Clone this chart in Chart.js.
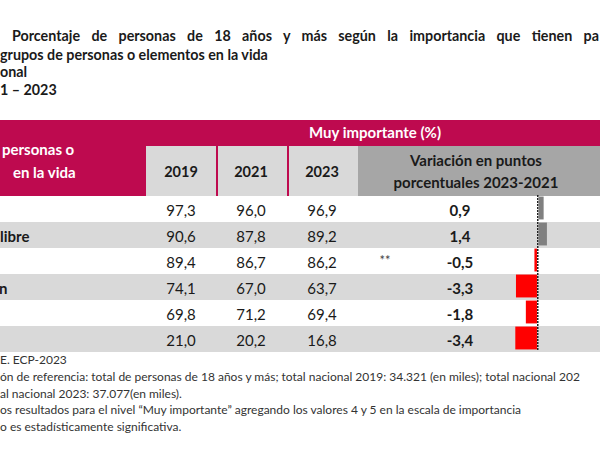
<!DOCTYPE html>
<html>
<head>
<meta charset="utf-8">
<script src="https://cdn.jsdelivr.net/npm/chart.js@4/dist/chart.umd.min.js"></script>
<style>
  html, body { margin: 0; padding: 0; }
  body { width: 600px; height: 450px; overflow: hidden; position: relative; background: #fff; font-family: Lato, "Open Sans", sans-serif; color: #1a1a1a; }
  .abs { position: absolute; white-space: nowrap; }
  .title { font-weight: bold; font-size: 14.3px; line-height: 18px; }
  .band { background: #BE0A4F; }
  .cell { background: #D9D9D9; }
  .cellDark { background: #A6A6A6; }
  .stripe { background: #D9D9D9; left: 0; width: 600px; height: 26px; }
  .hd { font-weight: bold; font-size: 15px; line-height: 20px; text-align: center; }
  .num { font-size: 15px; line-height: 26px; text-align: center; width: 60px; }
  .bold { font-weight: bold; }
  .note { font-size: 12px; line-height: 16.8px; color: #333; left: 0; }
  #varChart { position: absolute; left: 485px; top: 195px; }
</style>
</head>
<body>
<div id="page"></div>
<canvas id="varChart" width="112" height="156"></canvas>
<script>
// datos (lo que se ve en el recorte)
var categories = ['', 'libre', '', 'n', '', ''];
var years = ['2019', '2021', '2023'];
var values2019 = [97.3, 90.6, 89.4, 74.1, 69.8, 21.0];
var values2021 = [96.0, 87.8, 86.7, 67.0, 71.2, 20.2];
var values2023 = [96.9, 89.2, 86.2, 63.7, 69.4, 16.8];
var variation = [0.9, 1.4, -0.5, -3.3, -1.8, -3.4];
var significance = ['', '', '**', '', '', ''];

var titleLines = [
  'Porcentaje de personas de 18 años y más según la importancia que tienen pa',
  'grupos de personas o elementos en la vida',
  'onal',
  '1 – 2023'
];
var notes = [
  'E. ECP-2023',
  'ón de referencia: total de personas de 18 años y más; total nacional 2019: 34.321 (en miles); total nacional 202',
  'al nacional 2023: 37.077(en miles).',
  'os resultados para el nivel “Muy importante” agregando los valores 4 y 5 en la escala de importancia',
  'o es estadísticamente significativa.'
];

var page = document.getElementById('page');
var rowTop = 196, rowH = 26;
var colX = [181, 251, 322];

function add(cls, css, text) {
  var d = document.createElement('div');
  d.className = 'abs ' + cls;
  d.style.cssText = css;
  if (text !== undefined) d.textContent = text;
  page.appendChild(d);
  return d;
}

function fmt(v) {
  return v.toFixed(1).replace('.', ',');
}

function barColour(v) {
  return v < 0 ? '#FF0000' : '#808080';
}

// titulo
add('title', 'left:12px;top:27px;width:587px;text-align:justify;text-align-last:justify;white-space:normal;', titleLines[0]);
add('title', 'left:0;top:46px;', titleLines[1]);
add('title', 'left:0;top:63px;', titleLines[2]);
add('title', 'left:0;top:81px;', titleLines[3]);

// cabecera
add('band', 'left:0;top:120px;width:600px;height:76px;');
add('cell', 'left:146px;top:146px;width:70px;height:50px;');
add('cell', 'left:218px;top:146px;width:69px;height:50px;');
add('cell', 'left:289px;top:146px;width:69px;height:50px;');
add('cellDark', 'left:358px;top:146px;width:242px;height:50px;');
add('hd', 'left:295px;top:122px;width:160px;color:#fff;', 'Muy importante (%)');
add('hd', 'left:2px;top:139px;color:#fff;text-align:left;', 'personas o');
add('hd', 'left:13px;top:162px;color:#fff;text-align:left;', 'en la vida');
years.forEach(function(y, i) {
  add('hd', 'left:' + (colX[i] - 30) + 'px;top:162px;width:60px;font-size:14.5px;', y);
});
add('hd', 'left:376px;top:150px;width:200px;', 'Variación en puntos');
add('hd', 'left:376px;top:172px;width:200px;', 'porcentuales 2023-2021');

// filas
categories.forEach(function(c, i) {
  var top = rowTop + i * rowH;
  if (i % 2 === 1) add('stripe', 'top:' + top + 'px;');
  if (c) add('num bold', 'left:' + (c.length > 1 ? 0 : -1) + 'px;top:' + (top + 1) + 'px;width:auto;text-align:left;', c);
  [values2019, values2021, values2023].forEach(function(arr, j) {
    add('num', 'left:' + (colX[j] - 30) + 'px;top:' + (top + 1) + 'px;', fmt(arr[i]));
  });
  if (significance[i]) add('num', 'left:355px;top:' + (top - 1) + 'px;font-size:13px;color:#444;', significance[i]);
  add('num bold', 'left:430px;top:' + (top + 1) + 'px;', fmt(variation[i]));
});

// notas
notes.forEach(function(n, i) {
  add('note', 'top:' + (352 + i * 16.8) + 'px;', n);
});

var ctx = document.getElementById('varChart').getContext('2d');
var chart = new Chart(ctx, {
  type: 'bar',
  data: {
    labels: categories,
    datasets: [{
      label: 'Variación en puntos porcentuales 2023-2021',
      data: variation,
      backgroundColor: variation.map(barColour),
      borderWidth: 0,
      barPercentage: 0.88,
      categoryPercentage: 1
    }]
  },
  options: {
    indexAxis: 'y',
    responsive: false,
    animation: false,
    layout: { padding: 0 },
    plugins: { legend: { display: false }, tooltip: { enabled: false } },
    scales: {
      x: {
        min: -8,
        max: 9,
        z: 1,
        ticks: { display: false, stepSize: 1 },
        grid: {
          drawTicks: false,
          lineWidth: 1.5,
          color: function(c) { return c.tick && c.tick.value === 0 ? '#222' : 'rgba(0,0,0,0)'; }
        },
        border: { display: false, dash: [2, 1] }
      },
      y: { display: false }
    }
  }
});
</script>
</body>
</html>
